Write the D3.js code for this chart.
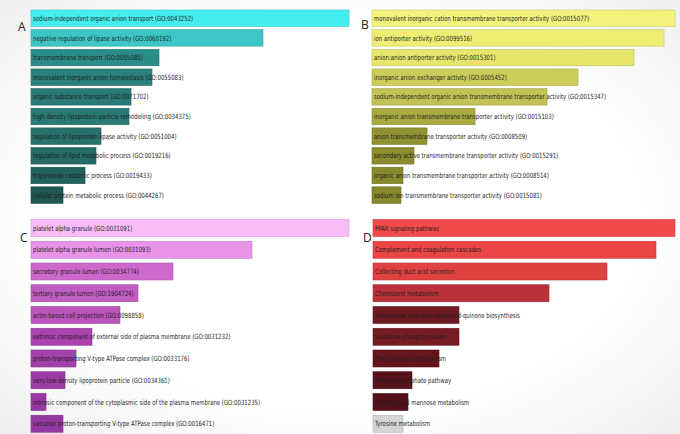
<!DOCTYPE html>
<html>
<head>
<meta charset="utf-8">
<script src="https://cdn.jsdelivr.net/npm/d3@7"></script>
<style>
  html, body { margin: 0; padding: 0; background: #ffffff; }
  svg { display: block; }
</style>
</head>
<body>
<svg id="chart" width="680" height="434"></svg>
<script>
// ---------- data ----------
const termsA = [
  "sodium-independent organic anion transport (GO:0043252)",
  "negative regulation of lipase activity (GO:0060192)",
  "transmembrane transport (GO:0055085)",
  "monovalent inorganic anion homeostasis (GO:0055083)",
  "organic substance transport (GO:0071702)",
  "high-density lipoprotein particle remodeling (GO:0034375)",
  "regulation of lipoprotein lipase activity (GO:0051004)",
  "regulation of lipid metabolic process (GO:0019216)",
  "triglyceride catabolic process (GO:0019433)",
  "cellular protein metabolic process (GO:0044267)"
];
const valuesA = [318, 232, 128, 121, 100, 98, 70, 65, 54, 32];

const termsB = [
  "monovalent inorganic cation transmembrane transporter activity (GO:0015077)",
  "ion antiporter activity (GO:0099516)",
  "anion:anion antiporter activity (GO:0015301)",
  "inorganic anion exchanger activity (GO:0005452)",
  "sodium-independent organic anion transmembrane transporter activity (GO:0015347)",
  "inorganic anion transmembrane transporter activity (GO:0015103)",
  "anion transmembrane transporter activity (GO:0008509)",
  "secondary active transmembrane transporter activity (GO:0015291)",
  "organic anion transmembrane transporter activity (GO:0008514)",
  "sodium ion transmembrane transporter activity (GO:0015081)"
];
const valuesB = [303, 292, 262, 206, 175, 103, 55, 42, 31, 29];

const termsC = [
  "platelet alpha granule (GO:0031091)",
  "platelet alpha granule lumen (GO:0031093)",
  "secretory granule lumen (GO:0034774)",
  "tertiary granule lumen (GO:1904724)",
  "actin-based cell projection (GO:0098858)",
  "extrinsic component of external side of plasma membrane (GO:0031232)",
  "proton-transporting V-type ATPase complex (GO:0033176)",
  "very-low-density lipoprotein particle (GO:0034361)",
  "intrinsic component of the cytoplasmic side of the plasma membrane (GO:0031235)",
  "vacuolar proton-transporting V-type ATPase complex (GO:0016471)"
];
const valuesC = [318, 221, 142, 107, 89, 61, 45, 34, 15, 32];

const termsD = [
  "PPAR signaling pathway",
  "Complement and coagulation cascades",
  "Collecting duct acid secretion",
  "Cholesterol metabolism",
  "Ubiquinone and other terpenoid-quinone biosynthesis",
  "Oxidative phosphorylation",
  "Phenylalanine metabolism",
  "Pentose phosphate pathway",
  "Fructose and mannose metabolism",
  "Tyrosine metabolism"
];
const valuesD = [302, 283, 234, 176, 86, 86, 66, 39, 35, 30];

const panelLabels = ["A", "B", "C", "D"];

// ---------- palettes ----------
const colorsA = ["#44eeee", "#3cc6c6", "#2b8d89", "#2a807c", "#2a7b77", "#2a7a75", "#28716d", "#266b67", "#23635f", "#1f5752"];
const colorsB = ["#f2f27c", "#eeee74", "#e6e66c", "#cccc5a", "#c2c256", "#aaaa42", "#929232", "#8c8c2f", "#88882d", "#87872b"];
const colorsC = ["#f8bcf8", "#e892e8", "#cd68cd", "#c15cc1", "#bc55bc", "#aa42b0", "#a241aa", "#9c3ca5", "#9739a1", "#9538a0"];
const colorsD = ["#f04a4a", "#e94545", "#e04141", "#ba3139", "#6e1a20", "#781c24", "#64161c", "#561319", "#541218", "#d4d4d4"];

// ---------- drawing ----------
const svg = d3.select("#chart");

// faint photographic vignette of the reference
const defs = svg.append("defs");
const grad = defs.append("radialGradient").attr("id", "bg").attr("cx", "50%").attr("cy", "50%").attr("r", "75%");
grad.append("stop").attr("offset", "60%").attr("stop-color", "#ffffff");
grad.append("stop").attr("offset", "100%").attr("stop-color", "#ececec");
svg.append("rect").attr("width", 680).attr("height", 434).attr("fill", "url(#bg)");

const panels = [
  { terms: termsA, values: valuesA, colors: colorsA, label: panelLabels[0], x0: 31,  w: 318, y0: 10,    step: 19.65, bh: 16.5, lx: 18,  ly: 31 },
  { terms: termsB, values: valuesB, colors: colorsB, label: panelLabels[1], x0: 372, w: 303, y0: 10,    step: 19.65, bh: 16.5, lx: 361, ly: 29 },
  { terms: termsC, values: valuesC, colors: colorsC, label: panelLabels[2], x0: 31,  w: 318, y0: 219.5, step: 21.75, bh: 17,   lx: 20,  ly: 242 },
  { terms: termsD, values: valuesD, colors: colorsD, label: panelLabels[3], x0: 373, w: 302, y0: 219.5, step: 21.75, bh: 17,   lx: 363, ly: 242 }
];

const squeeze = 0.83;

panels.forEach(p => {
  const n = p.terms.length;
  const pad = 1 - p.bh / p.step;
  const start = p.y0 - p.step * pad / 2;
  const y = d3.scaleBand()
    .domain(p.terms)
    .range([start, start + n * p.step])
    .paddingInner(pad)
    .paddingOuter(pad / 2);
  const x = d3.scaleLinear()
    .domain([0, d3.max(p.values)])
    .range([p.x0, p.x0 + p.w]);

  const data = p.terms.map((t, i) => ({ term: t, value: p.values[i], color: p.colors[i] }));
  const g = svg.append("g");

  g.selectAll("rect")
    .data(data)
    .join("rect")
    .attr("x", x(0))
    .attr("y", d => y(d.term))
    .attr("width", d => x(d.value) - x(0))
    .attr("height", y.bandwidth())
    .attr("fill", d => d.color)
    .attr("stroke", d => d3.color(d.color).darker(0.5))
    .attr("stroke-width", 0.6);

  g.selectAll("text.term")
    .data(data)
    .join("text")
    .attr("class", "term")
    .attr("transform", d => `translate(${x(0) + 2},${y(d.term) + y.bandwidth() / 2}) scale(${squeeze},1)`)
    .attr("dy", "0.36em")
    .attr("font-family", "'DejaVu Sans Condensed', 'Liberation Sans Narrow', sans-serif")
    .attr("font-size", 7.2)
    .attr("fill", "#1e1e1e")
    .text(d => d.term);

  g.append("text")
    .attr("x", p.lx)
    .attr("y", p.ly)
    .attr("font-family", "'Open Sans', 'Liberation Sans', Arial, sans-serif")
    .attr("font-size", 12)
    .attr("fill", "#222")
    .text(p.label);
});
</script>
</body>
</html>
